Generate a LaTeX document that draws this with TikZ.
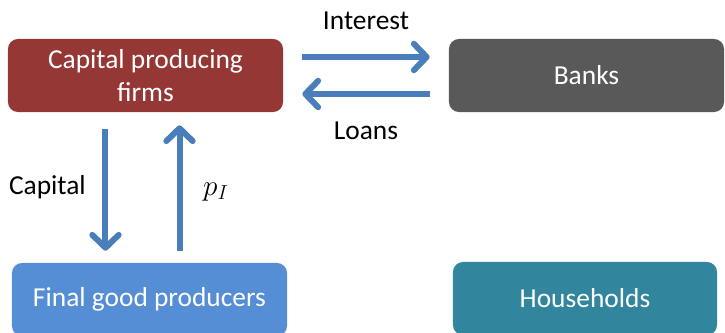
\documentclass[tikz,border=0pt]{standalone}
\usepackage{fontspec}
\setmainfont{Carlito}
\usetikzlibrary{arrows.meta,calc}

\definecolor{firmred}{HTML}{953735}
\definecolor{bankgrey}{HTML}{595959}
\definecolor{finalblue}{HTML}{558ED5}
\definecolor{hhteal}{HTML}{31859C}
\definecolor{flowblue}{HTML}{4A7EBB}

\tikzset{
  agent/.style={rounded corners=0.25cm,minimum width=6.875cm,minimum height=1.825cm,
    text=white,align=center,inner sep=0pt},
  flow/.style={draw=flowblue,line width=0.15cm,
    -{Straight Barb[length=0.32cm,width=0.66cm,line cap=round,line join=round]}},
}

\begin{document}
\begin{tikzpicture}[x=0.025cm,y=-0.025cm,font=\fontsize{19.5}{23.5}\selectfont]
  \useasboundingbox (0,0) rectangle (725,332);
  \clip (0,0) rectangle (725,332);
  % the four agents
  \node[agent,fill=firmred] (firms) at (145.5,75.5) {Capital producing\\firms};
  \node[agent,fill=bankgrey] (banks) at (586.5,75.5) {Banks};
  \node[agent,fill=finalblue] (final) at (149.5,299.5) {Final good producers};
  \node[agent,fill=hhteal,minimum width=6.6cm] (hh) at (585,298.5) {Households};
  % firms <-> banks
  \draw[flow,shorten <=0.475cm,shorten >=0.475cm]
    ([yshift=0.4625cm]firms.east) -- ([yshift=0.4625cm]banks.west)
    node[midway,above=0.5cm] (interest) {Interest};
  \draw[flow,shorten <=0.475cm,shorten >=0.475cm]
    ([yshift=-0.4625cm]banks.west) -- ([yshift=-0.4625cm]firms.east)
    node[midway,below=0.5cm] (loans) {Loans};
  % firms <-> final good producers
  \draw[flow,shorten <=0.425cm,shorten >=0.3cm]
    ([xshift=-1.0cm]firms.south) -- ([xshift=-1.0cm]firms.south |- final.north)
    node[midway,left=0.3cm] (capital) {Capital};
  \draw[flow,shorten <=0.3cm,shorten >=0.325cm]
    ([xshift=0.85cm]firms.south |- final.north) -- ([xshift=0.85cm]firms.south)
    node[pos=0.47,right=0.4cm] (price) {$p_I$};
\end{tikzpicture}
\end{document}
